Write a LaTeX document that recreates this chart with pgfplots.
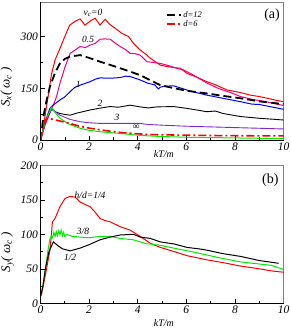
\documentclass[border=0pt]{standalone}
\usepackage{fontspec}
\setmainfont{Liberation Serif}
\usepackage{pgfplots}
\pgfplotsset{compat=1.18}
\definecolor{myviolet}{RGB}{130,40,210}
\definecolor{mygreen}{RGB}{0,235,0}
\pgfplotsset{
  panel/.style={
    scale only axis, width=243pt, height=138pt,
    xmin=0, xmax=10, xtick={0,2,...,10}, minor x tick num=1,
    minor y tick num=1,
    tick align=inside, xtick pos=bottom, ytick pos=left,
    major tick length=4pt, minor tick length=2.5pt,
    every tick/.style={black, line width=0.6pt},
    axis line style={black!50, line width=0.6pt},
    /pgf/number format/assume math mode=true,
    ticklabel style={font=\itshape\fontsize{11.5}{11.5}\selectfont},
    xticklabel style={yshift=1pt},
    yticklabel style={xshift=1pt},
    label style={font=\itshape\fontsize{10}{11}\selectfont},
    after end axis/.code={\draw[black, line width=0.8pt] (rel axis cs:0,1) |- (rel axis cs:1,0);},
  },
}
\begin{document}
\begin{tikzpicture}
\begin{axis}[panel, at={(0pt,0pt)}, anchor=south west,
  ymin=0, ymax=400, ytick={0,150,300},
  xlabel={kT/m}, xlabel style={at={(axis description cs:0.508,-0.10)}, anchor=center},
  ylabel={\fontsize{13}{13}\selectfont S\textsubscript{x}( ω\textsubscript{c} )},
  ylabel style={at={(axis description cs:-0.14,0.384)}, anchor=center, rotate=0},
  legend style={at={(axis description cs:0.51,0.955)}, anchor=north west, draw=none, fill=none,
    font=\itshape\fontsize{8.5}{9}\selectfont, row sep=-2.5pt, inner sep=1pt},
  legend cell align=left,
  legend image code/.code={\draw[#1] (0pt,0pt) -- (14pt,0pt);},
]
% v_c = 0
\addplot[red, line width=1pt, forget plot] coordinates {
(0,0) (0.12,39) (0.3,120) (0.45,190) (0.6,232) (0.8,265) (1.0,300) (1.2,333) (1.45,345) (1.63,351) (1.83,333) (2.05,345) (2.25,353) (2.45,333) (2.66,350) (2.85,335) (3.07,324) (3.35,309) (3.62,300) (3.83,280) (4.1,261) (4.38,246) (4.52,237) (4.93,217) (5.2,213) (5.5,210) (5.75,208) (6.03,193) (6.4,183) (6.85,169) (7.2,160) (7.68,145) (8.2,138) (8.64,130) (9.0,126) (9.33,121) (9.7,115) (10,111)};
% 0.5
\addplot[magenta, line width=1pt, forget plot] coordinates {
(0,0) (0.2,45) (0.4,80) (0.55,105) (0.66,126) (0.8,164) (1.01,212) (1.22,251) (1.45,262) (1.63,271) (1.85,268) (2.04,275) (2.25,280) (2.45,292) (2.65,293) (2.87,292) (3.05,282) (3.28,271) (3.5,262) (3.69,251) (3.9,250) (4.1,246) (4.38,227) (4.6,225) (4.93,222) (5.3,215) (5.6,208) (5.89,203) (6.3,188) (6.85,165) (7.3,150) (7.8,138) (8.23,126) (8.7,118) (9.2,112) (9.6,106) (10,100)};
% 1
\addplot[blue, line width=1pt, forget plot] coordinates {
(0,0) (0.2,55) (0.39,92) (0.5,100) (0.8,116) (1.0,125) (1.22,140) (1.4,152) (1.63,159) (2.04,169) (2.25,176) (2.45,180) (2.87,179) (3.28,181) (3.5,185) (3.69,184) (3.9,179) (4.1,174) (4.44,164) (4.7,160) (4.85,148) (4.93,153) (5.1,156) (5.48,157) (5.8,150) (6.2,141) (6.85,130) (7.5,121) (8.23,111) (8.7,104) (9.0,103) (9.5,96) (10,89)};
% 2
\addplot[black, line width=0.9pt, forget plot] coordinates {
(0,0) (0.2,55) (0.45,90) (0.6,82) (0.8,77) (1.0,74) (1.22,72) (1.5,78) (2.04,87) (2.5,93) (2.87,97) (3.2,95) (3.69,101) (4.1,96) (4.44,93) (4.8,96) (5.48,97) (6.0,92) (6.85,82) (7.2,84) (7.5,77) (8.23,68) (9.0,63) (10,58)};
% 3
\addplot[myviolet, line width=0.9pt, forget plot] coordinates {
(0,0) (0.2,55) (0.45,90) (0.6,82) (0.8,72) (1.2,60) (1.63,53) (2.0,50) (2.45,48) (3.28,48) (4.1,48) (4.44,45) (5,43) (6,40) (7,38) (8,36) (9,34) (10,32)};
% infinity
\addplot[mygreen, line width=1pt, forget plot] coordinates {
(0,0) (0.2,55) (0.46,95) (0.6,80) (0.8,63) (1.2,45) (1.63,34) (2.0,28) (2.45,24) (3.28,19) (4.0,14) (4.44,12) (5,10) (6,8) (7,7) (8,6) (9,5) (10,5)};
% d=12
\addplot[black, line width=1.8pt, dash pattern=on 8pt off 4pt] coordinates {
(0,0) (0.12,68) (0.25,115) (0.39,155) (0.6,195) (0.8,222) (1.0,235) (1.22,242) (1.63,246) (2.0,238) (2.45,227) (2.9,217) (3.28,208) (3.7,198) (4.1,188) (4.5,174) (4.93,159) (5.5,150) (6.0,143) (6.85,135) (7.5,128) (8.23,121) (9.0,112) (10,104)};
\addlegendentry{d=12}
% d=6
\addplot[red, line width=1.6pt, dash pattern=on 8pt off 3pt on 2pt off 3pt] coordinates {
(0,0) (0.1,30) (0.25,63) (0.5,60) (0.8,55) (1.22,48) (1.6,40) (2.04,34) (2.6,28) (3.28,22) (4.0,18) (4.44,16) (5,15) (6,14) (7,13) (8,12.5) (9,12) (10,12)};
\addlegendentry{d=6}
\node[font=\itshape\fontsize{9.5}{9.5}\selectfont] at (axis cs:2.16,368) {v\textsubscript{c}=0};
\node[font=\itshape\fontsize{9.5}{9.5}\selectfont] at (axis cs:1.96,292) {0.5};
\node[font=\itshape\fontsize{9.5}{9.5}\selectfont] at (axis cs:1.55,162) {1};
\node[font=\itshape\fontsize{9.5}{9.5}\selectfont] at (axis cs:2.45,106) {2};
\node[font=\itshape\fontsize{9.5}{9.5}\selectfont] at (axis cs:3.15,66) {3};
\node[font=\fontsize{9.5}{9.5}\selectfont] at (axis cs:3.94,36) {∞};
\node[font=\fontsize{14}{14}\selectfont] at (axis cs:9.53,362) {(a)};
\end{axis}
\begin{axis}[panel, at={(0pt,-163.3pt)}, anchor=south west,
  ymin=0, ymax=200, ytick={0,50,...,200},
  xlabel={kT/m}, xlabel style={at={(axis description cs:0.508,-0.143)}, anchor=center},
  ylabel={\fontsize{13}{13}\selectfont S\textsubscript{y}( ω\textsubscript{c} )},
  ylabel style={at={(axis description cs:-0.136,0.37)}, anchor=center, rotate=0},
]
% h/d = 1/4
\addplot[red, line width=1pt] coordinates {
(0,10) (0.05,14) (0.19,39) (0.3,60) (0.39,77) (0.45,100) (0.49,118) (0.6,123) (0.8,140) (1.01,152) (1.22,155) (1.42,154) (1.63,147) (1.85,143) (2.04,140) (2.25,132) (2.45,123) (2.65,120) (2.87,118) (3.28,111) (3.69,106) (4.1,97) (4.52,87) (4.93,81) (5.5,75) (6.03,69) (6.85,63) (7.5,59) (8.23,54) (9,50) (9.5,47) (10,45)};
% 3/8
\addplot[mygreen, line width=1pt] coordinates {
(0,10) (0.1,25) (0.2,50) (0.3,75) (0.39,94) (0.45,98) (0.5,95) (0.55,103) (0.6,97) (0.65,104) (0.7,98) (0.75,105) (0.8,99) (0.85,106) (0.9,98) (0.95,103) (1.0,97) (1.08,100) (1.3,97) (1.63,96) (2.0,95) (2.45,97) (2.87,97) (3.28,94) (3.83,92) (4.38,86) (4.52,86) (4.93,84) (5.48,80) (6.2,75) (6.85,70) (7.5,65) (8.23,60) (9.0,57) (9.5,55) (10,49)};
% 1/2
\addplot[black, line width=1pt] coordinates {
(0,10) (0.1,25) (0.2,50) (0.35,75) (0.53,89) (0.7,84) (0.9,79) (1.22,76) (1.63,80) (2.0,85) (2.45,92) (2.87,96) (3.28,99) (3.83,100) (4.1,96) (4.52,94) (4.93,89) (5.5,86) (6.03,81) (6.5,79) (6.85,77) (7.5,72) (8.23,68) (9.0,62) (9.8,58)};
\node[font=\itshape\fontsize{9.5}{9.5}\selectfont] at (axis cs:2.04,157) {h/d=1/4};
\node[font=\itshape\fontsize{9.5}{9.5}\selectfont] at (axis cs:1.75,104) {3/8};
\node[font=\itshape\fontsize{9.5}{9.5}\selectfont] at (axis cs:1.22,66) {1/2};
\node[font=\fontsize{14}{14}\selectfont] at (axis cs:9.46,179) {(b)};
\end{axis}
\pgfresetboundingbox
\path[use as bounding box] (-40.5pt,-189pt) rectangle (250.5pt,140pt);
\end{tikzpicture}
\end{document}
